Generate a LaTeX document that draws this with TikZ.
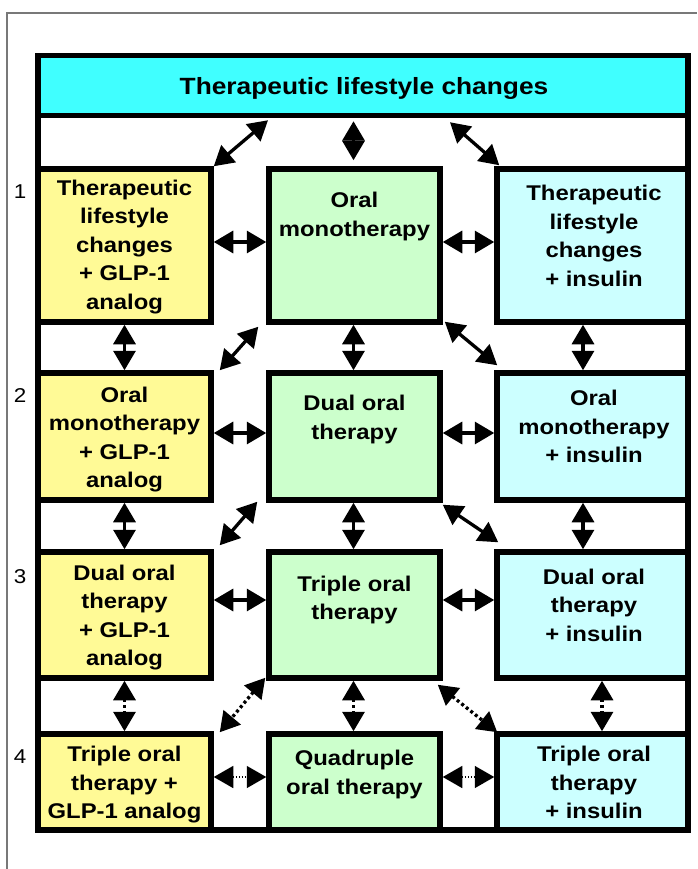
\documentclass[tikz,border=0pt]{standalone}
\usepackage{fontspec}
\setmainfont{Liberation Sans}[FakeStretch=1.12]
\usetikzlibrary{arrows.meta,calc}
\definecolor{ylw}{RGB}{255,250,150}
\definecolor{grn}{RGB}{204,255,204}
\definecolor{lcy}{RGB}{204,255,255}
\definecolor{tcy}{RGB}{64,255,255}
\definecolor{framegray}{RGB}{120,120,120}
\begin{document}
\begin{tikzpicture}[x=1pt,y=-1pt,
  >={Triangle[length=19.5pt,width=22pt]},
  box/.style={draw=black, line width=5.5pt, inner sep=0pt},
  lbox/.style={box, fill=ylw, minimum width=173pt},
  mbox/.style={box, fill=grn, minimum width=171pt},
  rbox/.style={box, fill=lcy, minimum width=191pt},
  dbl/.style={line width=3.3pt, <->},
  dotdbl/.style={line width=3.3pt, <->, dash pattern=on 3pt off 2.8pt},
  thindot/.style={line width=1.5pt, <->, dash pattern=on 1.5pt off 1.5pt},
  tx/.style={font=\fontsize{21.3}{28.5}\selectfont\bfseries, align=center, inner sep=0pt},
  rowlbl/.style={font=\fontsize{20}{22}\selectfont, inner sep=0pt}
]
\useasboundingbox (0,0) rectangle (697,869);
% thin outer frame
\draw[framegray, line width=1.5pt] (7,869) -- (7,13) -- (697,13);
% title band
\node[box, fill=tcy, minimum width=650pt, minimum height=60pt] (T) at (363,85.5) {};
% boxes
\node[lbox, minimum height=153pt] (L1) at (124.5,245.5) {};
\node[mbox, minimum height=153pt] (M1) at (354.5,245.5) {};
\node[rbox, minimum height=153pt] (R1) at (592.5,245.5) {};
\node[lbox, minimum height=127pt] (L2) at (124.5,436.5) {};
\node[mbox, minimum height=127pt] (M2) at (354.5,436.5) {};
\node[rbox, minimum height=127pt] (R2) at (592.5,436.5) {};
\node[lbox, minimum height=126pt] (L3) at (124.5,615) {};
\node[mbox, minimum height=126pt] (M3) at (354.5,615) {};
\node[rbox, minimum height=126pt] (R3) at (592.5,615) {};
\node[lbox, minimum height=96pt] (L4) at (124.5,782) {};
\node[mbox, minimum height=96pt] (M4) at (354.5,782) {};
\node[rbox, minimum height=96pt] (R4) at (592.5,782) {};
% thick outer frame
\draw[line width=5.5pt] (38,55.5) rectangle (688,830);
% arrows from title
\draw[dbl] ([shift={(-95,2)}]T.south) -- (L1.north east);
\draw[dbl] ([shift={(-9.5,3)}]T.south) -- ([shift={(-1,-6)}]M1.north);
\draw[dbl] ([shift={(87,4)}]T.south) -- ([shift={(5,-1)}]R1.north west);
% row 1 horizontals
\draw[dbl] ([yshift=3.5pt]L1.east) -- ([yshift=3.5pt]M1.west);
\draw[dbl] ([yshift=3.5pt]M1.east) -- ([yshift=3.5pt]R1.west);
% row 1-2
\draw[dbl] (L1.south) -- (L2.north);
\draw[dbl] ([xshift=-1pt]M1.south) -- ([xshift=-1pt]M2.north);
\draw[dbl] ([xshift=-9.5pt]R1.south) -- ([xshift=-9.5pt]R2.north);
\draw[dbl] ([shift={(-8,2)}]M1.south west) -- ([shift={(6,0)}]L2.north east);
\draw[dbl] ([shift={(2,-3)}]M1.south east) -- ([shift={(3,-5)}]R2.north west);
% row 2 horizontals
\draw[dbl] ([yshift=3.5pt]L2.east) -- ([yshift=3.5pt]M2.west);
\draw[dbl] ([yshift=3.5pt]M2.east) -- ([yshift=3.5pt]R2.west);
% row 2-3
\draw[dbl] (L2.south) -- (L3.north);
\draw[dbl] ([xshift=-1pt]M2.south) -- ([xshift=-1pt]M3.north);
\draw[dbl] ([xshift=-9.5pt]R2.south) -- ([xshift=-9.5pt]R3.north);
\draw[dbl] ([shift={(-9,-1)}]M2.south west) -- ([shift={(6,-4)}]L3.north east);
\draw[dbl] ([shift={(0,2)}]M2.south east) -- ([shift={(4,-7)}]R3.north west);
% row 3 horizontals
\draw[dbl] ([yshift=15pt]L3.east) -- ([yshift=15pt]M3.west);
\draw[dbl] ([yshift=15pt]M3.east) -- ([yshift=15pt]R3.west);
% row 3-4 (dotted)
\draw[dotdbl] (L3.south) -- (L4.north);
\draw[dotdbl] ([xshift=-1pt]M3.south) -- ([xshift=-1pt]M4.north);
\draw[dotdbl] ([xshift=9.5pt]R3.south) -- ([xshift=9.5pt]R4.north);
\draw[dotdbl] ([shift={(-1,-3)}]M3.south west) -- ([shift={(6,1)}]L4.north east);
\draw[dotdbl] ([shift={(-5,4)}]M3.south east) -- ([shift={(3,1)}]R4.north west);
% row 4 horizontals
\draw[thindot] ([yshift=5pt]L4.east) -- ([yshift=5pt]M4.west);
\draw[thindot] ([yshift=5pt]M4.east) -- ([yshift=5pt]R4.west);
% texts
\node[font=\fontsize{23.5}{28}\selectfont\bfseries, inner sep=0pt] (Tt) at (364,88) {Therapeutic lifestyle changes};
\node[tx] (tL1) at (124.5,247) {Therapeutic\\lifestyle\\changes\\+ GLP-1\\analog};
\node[tx] (tM1) at (354.5,216.5) {Oral\\monotherapy};
\node[tx] (tR1) at (594,236) {Therapeutic\\lifestyle\\changes\\+ insulin};
\node[tx] (tL2) at (124.5,439.5) {Oral\\monotherapy\\+ GLP-1\\analog};
\node[tx] (tM2) at (354.5,419.5) {Dual oral\\therapy};
\node[tx] (tR2) at (594,426.5) {Oral\\monotherapy\\+ insulin};
\node[tx] (tL3) at (124.5,617.5) {Dual oral\\therapy\\+ GLP-1\\analog};
\node[tx] (tM3) at (354.5,600) {Triple oral\\therapy};
\node[tx] (tR3) at (594,605) {Dual oral\\therapy\\+ insulin};
\node[tx] (tL4) at (124.5,785) {Triple oral\\therapy +\\GLP-1 analog};
\node[tx] (tM4) at (354.5,774.5) {Quadruple\\oral therapy};
\node[tx] (tR4) at (594,782.5) {Triple oral\\therapy\\+ insulin};
% row labels
\node[rowlbl] (n1) at (20,192) {1};
\node[rowlbl] (n2) at (20,396) {2};
\node[rowlbl] (n3) at (20,577) {3};
\node[rowlbl] (n4) at (20,757) {4};
\end{tikzpicture}
\end{document}
